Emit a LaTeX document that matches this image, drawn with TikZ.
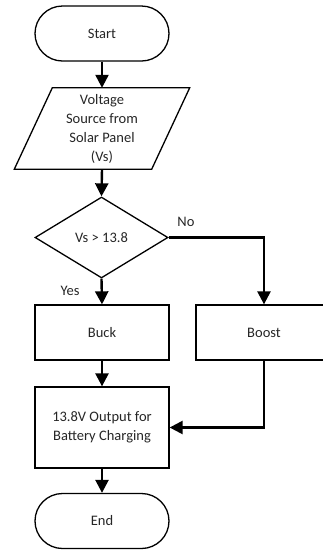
\documentclass[tikz,border=0pt]{standalone}
\usepackage{fontspec}
\setmainfont{Carlito}
\usetikzlibrary{shapes.geometric,shapes.misc,arrows.meta}
\begin{document}
\begin{tikzpicture}[x=1pt,y=-1pt,
  every node/.style={font=\fontsize{14.5}{19}\selectfont, text=black!85, align=center},
  term/.style={draw, line width=1.3pt, rounded rectangle, minimum width=134pt, minimum height=55pt, inner sep=0pt},
  procbox/.style={draw, line width=1.3pt, rectangle, minimum width=134pt, inner sep=0pt},
  decide/.style={draw, line width=1.3pt, diamond, minimum width=133pt, minimum height=81pt, inner sep=0pt, aspect=1.64},
  conn/.style={line width=2.4pt, -{Triangle[width=13pt,length=13pt]}},
  lbl/.style={font=\fontsize{14.5}{19}\selectfont}
]
\useasboundingbox (0,0) rectangle (323,550);
\clip (0,0) rectangle (323,550);
\node[term] (start) at (102,33.5) {Start};
\node[minimum width=137pt, minimum height=81pt, inner sep=0pt] (vs) at (102,128.5) {Voltage\\Source from\\Solar Panel\\(Vs)};
\draw[line width=1.3pt] ([xshift=19pt]vs.north west) -- ([xshift=19pt]vs.north east) -- ([xshift=-19pt]vs.south east) -- ([xshift=-19pt]vs.south west) -- cycle;
\node[decide] (dec) at (101.5,237.5) {Vs > 13.8};
\node[procbox, minimum height=55pt] (buck) at (102,332.5) {Buck};
\node[procbox, minimum height=55pt, minimum width=136pt] (boost) at (264,332.5) {Boost};
\node[procbox, minimum height=81pt] (out) at (102,427.5) {13.8V Output for\\Battery Charging};
\node[term] (end) at (102,521) {End};
\node[lbl] (yes) at (70,291) {Yes};
\node[lbl] (no) at (186,222) {No};
\draw[conn] (start.south) -- (vs.north);
\draw[conn] (vs.south) -- (dec.north);
\draw[conn] (dec.south) -- (buck.north);
\draw[conn] (dec.east) -| (boost.north);
\draw[conn] (buck.south) -- (out.north);
\draw[conn] (boost.south) |- (out.east);
\draw[conn] (out.south) -- (end.north);
\end{tikzpicture}
\end{document}
